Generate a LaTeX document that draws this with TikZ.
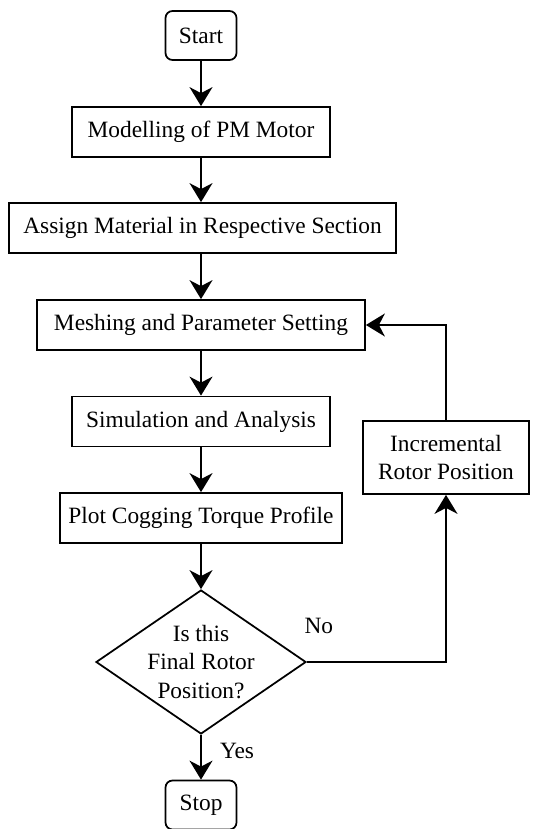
\documentclass[tikz,border=0pt]{standalone}
\usepackage{fontspec}
\setmainfont{Liberation Serif}
\usepackage{tikz}
\usetikzlibrary{shapes.geometric,arrows.meta,positioning,calc}

\begin{document}
\begin{tikzpicture}[
process/.style={
    draw,
    rectangle,
    line width=1pt,
    minimum height=1.0cm,
    inner sep=3pt
},
terminal/.style={
    draw,
    rectangle,
    rounded corners=4pt,
    line width=1pt,
    minimum width=1.42cm,
    minimum height=0.98cm
},
decision/.style={
    draw,
    diamond,
    line width=1pt,
    align=center,
    aspect=1.46,
    inner sep=-4pt,
    minimum width=4.2cm,
    minimum height=2.88cm
},
flow/.style={
    line width=1pt,
    -{Stealth[length=3.8mm,width=4.6mm,inset=1.2mm]}
},
every node/.style={font=\fontsize{13.3}{16}\selectfont}
]
\useasboundingbox (0,0) rectangle (10.84,-16.58);

\node[terminal] (start) at (4.02,-0.71) {Start};

\node[process, minimum width=5.16cm] (model) at (4.02,-2.64) {Modelling of PM Motor};

\node[process, minimum width=7.74cm] (assign) at (4.05,-4.56) {Assign Material in Respective Section};

\node[process, minimum width=6.56cm] (mesh) at (4.02,-6.5) {Meshing and Parameter Setting};

\node[process, minimum width=5.16cm] (simul) at (4.02,-8.43) {Simulation and Analysis};

\node[process, minimum width=5.64cm] (plot) at (4.02,-10.36) {Plot Cogging Torque Profile};

\node[decision] (final) at (4.02,-13.24) {Is this\\Final Rotor\\Position?};

\node[terminal] (stop) at (4.02,-16.1) {Stop};

\node[process, align=center, minimum width=3.32cm, minimum height=1.46cm] (incr) at (8.92,-9.15)
    {Incremental\\Rotor Position};

% main chain
\draw[flow] (start) -- (model);
\draw[flow] (model) -- (model |- assign.north);
\draw[flow] (assign.south -| mesh.north) -- (mesh);
\draw[flow] (mesh) -- (simul);
\draw[flow] (simul) -- (plot);
\draw[flow] (plot) -- (final);
\draw[flow] (final) -- (stop);

\node at ($(final.south)+(0.72,-0.32)$) {Yes};

% loop back
\draw[flow] (final.east) -| (incr.south);
\draw[flow] (incr.north) |- (mesh.east);

\node at ($(final.east)+(0.24,0.72)$) {No};

\end{tikzpicture}
\end{document}
